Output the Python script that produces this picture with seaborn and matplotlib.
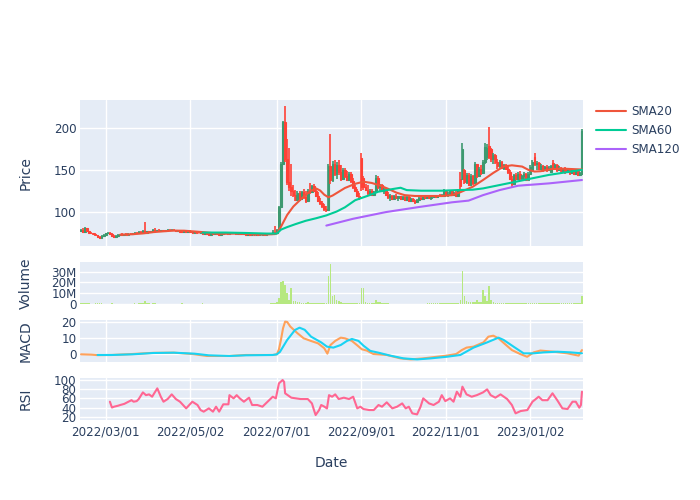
import matplotlib
matplotlib.use("Agg")
import matplotlib.pyplot as plt
import seaborn as sns

# daily candles, index 0..243 = trading days
opens = [78, 79, 77, 81, 77.5, 76, 75, 74, 73, 71,
         70, 72, 73, 75, 76, 74, 72, 71, 72, 73,
         73.5, 72.5, 74, 73.5, 74.5, 74, 75, 76, 75.5, 77,
         76, 78, 76, 77.5, 76.5, 77.5, 79.5, 78.5, 79, 78,
         78.5, 77.5, 78.5, 79.5, 78.5, 79.5, 78.5, 77.5, 78, 77,
         76.5, 77.5, 76.5, 77.5, 77, 76, 77, 76, 75.5, 76,
         74.5, 75, 74, 73.5, 74.5, 74, 75, 74, 73.5, 74.5,
         75.5, 75, 74.5, 75, 75.5, 75, 74.5, 75, 74.5, 74,
         74.5, 73.5, 74, 73, 73.5, 73, 73.5, 72.5, 73.5, 74,
         73, 74, 74.5, 75.5, 77, 75, 79.5, 106, 158, 207,
         163, 136, 130, 125, 121, 115, 123, 116, 124, 118,
         113, 126, 124, 131, 126, 120, 114, 111, 107, 104,
         103, 155, 138, 158, 146, 156, 148, 140, 150, 143,
         139, 146, 137, 130, 126, 120, 165, 141, 130, 127,
         123, 126, 121, 124, 141, 130, 132, 126, 128, 121,
         118, 120, 116, 120, 117, 119, 116, 118, 115, 118,
         114, 116, 113, 112, 115, 117, 116, 118, 117, 119,
         117, 118, 120, 118, 120, 119, 120, 126, 121, 122,
         125, 121, 123, 120, 140, 140, 150, 136, 145, 133,
         143, 135, 157, 143, 152, 147, 160, 166, 179, 175,
         163, 168, 160, 155, 160, 153, 156, 152, 148, 140,
         134, 144, 140, 146, 141, 143, 146, 139, 146, 150,
         166, 157, 159, 152, 155, 150, 154, 150, 148, 159,
         152, 156, 150, 153, 149, 152, 148, 151, 147, 150,
         146, 149, 145, 146]
highs = [80, 81, 83, 82, 78, 77, 76, 75, 73.5, 72,
         73, 74, 76, 77, 77, 75, 73, 73, 74, 74,
         75, 74, 75, 75, 76, 75, 77, 77, 78, 78,
         79, 88, 78, 78, 78, 80, 81, 79.5, 80, 79,
         79, 79, 80, 80.5, 80, 80, 79, 78.5, 79, 78,
         78, 78, 78, 78.5, 78, 77.5, 77.5, 77, 76.5, 76.5,
         75.5, 75.5, 75, 75, 75, 75.5, 75.5, 75, 75, 76,
         76, 76, 75.5, 76, 76, 75.5, 75.5, 75.5, 75, 75,
         75, 74.5, 74.5, 74, 74, 74, 74, 74, 74.5, 74.5,
         74.5, 75, 76, 79, 84, 80, 107, 160, 209, 226,
         187, 176, 157, 132, 127, 125, 126, 126, 128, 125,
         128, 135, 133, 134, 129, 124, 117, 114, 110, 108,
         157, 193, 161, 162, 160, 162, 156, 153, 153, 149,
         148, 148, 141, 133, 128, 123, 171, 143, 134, 132,
         128, 128, 126, 145, 143, 134, 134, 130, 129, 124,
         122, 121, 121, 122, 120, 120, 120, 119, 119, 119,
         117, 117, 115, 116, 118, 119, 119, 120, 120, 120,
         119, 121, 121, 121, 122, 122, 128, 127, 124, 127,
         126, 124, 125, 128, 148, 183, 152, 147, 147, 146,
         145, 160, 158, 154, 156, 162, 182, 181, 201, 177,
         171, 170, 164, 162, 161, 158, 158, 155, 150, 143,
         146, 147, 148, 149, 145, 148, 147, 148, 156, 162,
         171, 161, 160, 157, 156, 155, 156, 155, 156, 162,
         158, 157, 155, 154, 153, 154, 152, 152, 151, 151,
         150, 150, 148, 199]
lows = [77, 76, 76, 77, 75, 74, 73, 72, 70, 68,
        69.5, 71, 72, 74, 73, 71, 70, 70, 71, 72,
        72, 72, 73, 73, 73.5, 73, 74, 75, 75, 75.5,
        75.5, 75, 75, 76, 76, 77, 78, 77, 77.5, 77,
        77, 77, 78, 78, 78, 78, 77, 76.5, 76.5, 75.5,
        76, 76, 76, 76.5, 75.5, 75.5, 75.5, 75, 74.5, 74,
        73.5, 73.5, 73, 73, 73.5, 73.5, 73.5, 73, 73, 74,
        74.5, 74, 74, 74.5, 74.5, 74, 74, 74, 73.5, 73.5,
        73, 73, 72.5, 72.5, 72.5, 72.5, 72, 72, 73, 72.5,
        72.5, 73.5, 74, 75, 74, 74.5, 79, 105, 157, 160,
        133, 126, 120, 118, 113, 113, 114, 115, 116, 111,
        112, 122, 123, 124, 118, 112, 109, 105, 102, 101,
        102, 134, 136, 143, 140, 145, 137, 138, 141, 137,
        137, 135, 128, 124, 118, 115, 126, 127, 125, 121,
        120, 119, 119, 123, 128, 126, 124, 122, 119, 116,
        114, 115, 115, 116, 114, 115, 115, 114, 114, 113,
        112, 112, 110, 111, 114, 115, 115, 116, 116, 116,
        115, 117, 117, 117, 118, 118, 119, 119, 118, 121,
        120, 119, 119, 119, 128, 138, 134, 134, 131, 131,
        132, 134, 141, 142, 145, 146, 158, 162, 163, 160,
        158, 158, 152, 153, 152, 151, 150, 146, 138, 130,
        133, 138, 138, 139, 137, 139, 137, 138, 145, 149,
        155, 150, 150, 150, 148, 149, 148, 149, 147, 150,
        151, 148, 149, 147, 148, 146, 147, 145, 146, 145,
        145, 143, 143, 145]
closes = [79, 77, 81, 77.5, 76, 75, 74, 73, 71, 70,
          72, 73, 75, 76, 74, 72, 71, 72, 73, 73.5,
          72.5, 74, 73.5, 74.5, 74, 75, 76, 75.5, 77, 76,
          78, 76, 77.5, 76.5, 77.5, 79.5, 78.5, 79, 78, 78.5,
          77.5, 78.5, 79.5, 78.5, 79.5, 78.5, 77.5, 78, 77, 76.5,
          77.5, 76.5, 77.5, 77, 76, 77, 76, 75.5, 76, 74.5,
          75, 74, 73.5, 74.5, 74, 75, 74, 73.5, 74.5, 75.5,
          75, 74.5, 75, 75.5, 75, 74.5, 75, 74.5, 74, 74.5,
          73.5, 74, 73, 73.5, 73, 73.5, 72.5, 73.5, 74, 73,
          74, 74.5, 75.5, 77, 75, 79.5, 106, 158, 207, 163,
          136, 130, 125, 121, 115, 123, 116, 124, 118, 113,
          126, 124, 131, 126, 120, 114, 111, 107, 104, 103,
          155, 138, 158, 146, 156, 148, 140, 150, 143, 139,
          146, 137, 130, 126, 120, 118, 130, 130, 127, 123,
          126, 121, 124, 141, 130, 132, 126, 128, 121, 118,
          120, 116, 120, 117, 119, 116, 118, 115, 118, 114,
          116, 113, 112, 115, 117, 116, 118, 117, 119, 117,
          118, 120, 118, 120, 119, 120, 126, 121, 122, 125,
          121, 123, 120, 127, 131, 175, 136, 145, 133, 143,
          135, 157, 143, 152, 147, 160, 178, 176, 166, 163,
          168, 160, 155, 160, 153, 156, 152, 148, 140, 134,
          144, 140, 146, 141, 143, 146, 139, 146, 154, 160,
          157, 159, 152, 155, 150, 154, 150, 153, 155, 152,
          156, 150, 153, 149, 152, 148, 151, 147, 150, 146,
          149, 145, 147, 197]
# volume in millions of shares
volume_m = [0.8, 0.6, 0.7, 1.2, 0.5, 0.4, 0.4, 0.5, 0.6, 0.7,
            0.5, 0.4, 0.4, 0.3, 0.4, 0.5, 0.4, 0.3, 0.3, 0.3,
            0.3, 0.3, 0.4, 0.3, 0.3, 0.4, 0.5, 0.4, 0.5, 0.6,
            0.8, 2.4, 0.9, 0.5, 0.4, 0.6, 0.5, 0.4, 0.4, 0.3,
            0.3, 0.4, 0.4, 0.3, 0.4, 0.3, 0.3, 0.3, 0.3, 0.6,
            0.3, 0.3, 0.3, 0.3, 0.3, 0.3, 0.3, 0.3, 0.3, 0.9,
            0.4, 0.3, 0.3, 0.3, 0.3, 0.3, 0.3, 0.3, 0.3, 0.3,
            0.3, 0.3, 0.3, 0.3, 0.3, 0.3, 0.3, 0.3, 0.3, 0.3,
            0.3, 0.3, 0.3, 0.3, 0.3, 0.3, 0.3, 0.3, 0.3, 0.3,
            0.3, 0.4, 0.5, 0.8, 1.2, 1.5, 6, 20.7, 21, 17.7,
            10, 4, 15, 3, 2.5, 2, 1.5, 1.2, 1, 1,
            1.5, 1.2, 1, 1, 0.8, 0.8, 0.8, 0.9, 1, 1.2,
            26, 36.7, 7, 8.5, 4, 3, 1.5, 1.2, 1, 1,
            0.8, 0.7, 0.6, 0.6, 0.6, 0.8, 15, 14.5, 2, 1,
            0.8, 0.8, 0.9, 4, 1.5, 1.5, 1.2, 1.2, 0.5, 0.5,
            0.4, 0.4, 0.4, 0.4, 0.4, 0.4, 0.4, 0.4, 0.4, 0.4,
            0.4, 0.4, 0.4, 0.4, 0.4, 0.4, 0.4, 0.4, 0.5, 0.5,
            0.5, 0.5, 0.5, 0.5, 0.6, 0.6, 0.9, 0.7, 0.5, 0.6,
            0.6, 0.6, 0.6, 1, 3.5, 30.5, 7, 2.5, 1.5, 1.5,
            1.5, 1.5, 3.5, 2, 2, 13, 7, 2.5, 16.8, 4,
            2, 1.2, 1, 1, 1, 1, 0.7, 0.6, 0.6, 0.6,
            0.5, 0.5, 0.5, 0.5, 0.5, 0.5, 0.5, 0.5, 0.5, 0.6,
            0.7, 0.5, 0.5, 0.5, 0.5, 0.5, 0.5, 0.5, 0.5, 0.6,
            0.5, 0.5, 0.5, 0.5, 0.5, 0.5, 0.5, 0.5, 0.5, 0.5,
            0.5, 0.5, 0.5, 7.6]

# moving averages (day index, value)
sma20_idx = [19, 25, 30, 35, 40, 45, 50, 55, 60, 65, 70, 75, 80, 85, 90, 94,
             95, 97, 100, 103, 107, 111, 114, 116, 118, 120, 122, 124, 128, 133,
             137, 141, 145, 149, 153, 157, 162, 168, 175, 180, 184, 190, 195, 200,
             205, 209, 214, 217, 220, 223, 228, 234, 243]
sma20_val = [73.5, 74, 75, 76.5, 77.5, 78.3, 78.2, 77.3, 76.3, 75, 74.5, 74.8, 74.5, 73.8, 73.7, 74.2,
             75, 83, 97, 107, 116.5, 125, 128.5, 126, 121, 118, 120, 123, 129, 134,
             136.5, 135, 132, 128, 123.5, 120.5, 119.5, 119.5, 119.5, 120.5, 124, 130.5, 138.5, 147,
             154.6, 156, 154.5, 150.6, 148.6, 149, 151.5, 152, 151]
sma60_idx = [59, 70, 80, 90, 95, 97, 100, 104, 109, 114, 119, 124, 128, 133, 140, 144,
             151, 155, 158, 165, 175, 182, 190, 195, 203, 211, 219, 227, 235, 243]
sma60_val = [76, 76, 75.5, 74.8, 74.8, 79.5, 82.5, 86, 90, 93, 96.4, 101, 106, 114.5, 120.5, 124.5,
             127.7, 129.3, 126.5, 125.8, 125.8, 126.5, 127, 128.5, 132.5, 136.5, 140.6, 144.6, 147.6, 150.6]
sma120_idx = [119, 132, 148, 164, 180, 188, 195, 203, 212, 216, 219, 227, 235, 243]
sma120_val = [84.3, 92.4, 100.4, 106.4, 112, 114, 120.5, 126.5, 131.7, 132.5, 133, 134.5, 136.5, 138.5]

# MACD and signal line (day index, value)
macd_idx = [0, 5, 8, 15, 25, 35, 45, 54, 61, 72, 80, 93, 95, 96, 97, 98, 99, 100,
            101.5, 105, 108, 111.5, 115, 118, 119.5, 121, 123.3, 126, 128, 131.4, 133.8,
            136.2, 138.6, 141.8, 148.3, 155, 160, 166, 172.6, 177.4, 182, 184.7, 187,
            190.4, 195.2, 197.6, 200, 202.5, 205.8, 209, 213, 216.4, 219.6, 222.8, 229.3,
            235.9, 241.4, 243]
macd_val = [0, -0.2, -0.5, -0.4, 0.2, 0.9, 1.0, 0.2, -1.0, -1.0, -0.4, -0.4, 0, 3, 9, 16, 20, 19.8,
            17, 12.9, 9.8, 8.2, 6.7, 3.7, 0.4, 5.7, 8.2, 10.2, 9.8, 8.2, 5.7,
            3.1, 2.3, 0.2, -0.4, -2.5, -3.1, -2.5, -1.5, -0.8, 0.2, 2.6, 4.1,
            4.7, 7.3, 10.8, 11.4, 9.8, 6.1, 2.6, 0.2, -1.5, 1.2, 2.3, 1.6,
            0.6, -0.8, 2.6]
signal_idx = [8, 15, 25, 35, 45, 55, 62, 72, 80, 93, 95, 96.5, 100, 103.8, 106, 108.5,
              111.6, 116.5, 119.3, 122.4, 126, 129, 131.4, 134.6, 137, 140.3, 144.3, 150,
              156.5, 163, 169.4, 177.4, 184, 190.4, 197, 202.5, 205, 209.8, 214.7, 219.6,
              224.4, 231, 237.4, 243]
signal_val = [-0.4, -0.4, 0, 0.8, 1.0, 0.4, -0.6, -1.0, -0.6, -0.4, 0, 1.5, 8.8, 14.9, 16.3, 15,
              10.8, 7.3, 4.7, 4.1, 5.7, 8.2, 9.4, 8.2, 5.3, 2.1, 1.0, -0.8,
              -2.5, -3.1, -2.5, -1.5, -0.4, 4.1, 7.3, 10.2, 8.8, 4.7, 0.6, 0.6,
              1.2, 1.6, 1.2, 0.6]

# RSI (day index, value)
rsi_idx = [14, 15, 16, 18, 19, 21, 23, 24.5, 25.5, 27, 28, 30, 31.5, 33, 34.5, 35.5, 37, 38.7,
           40, 42, 44, 46, 48, 51, 52.5, 54, 56.5, 58, 59.5, 62, 64, 65.5, 67, 69, 71.5, 72,
           74, 75.5, 77, 79, 81.5, 83, 85.5, 88, 90.5, 93, 94.5, 96, 97.8, 98.5, 99, 102,
           106.5, 110, 112, 113, 113.8, 115.5, 116.5, 118, 119.3, 120.3, 121.8, 123.3, 125,
           127.5, 130, 132, 134, 135.5, 137, 139.8, 142, 144.3, 146, 148.3, 151, 153.3, 155.8,
           157.5, 159, 160.7, 163, 164.7, 166, 168.8, 171, 173.6, 175, 176.7, 179, 180.7,
           182.3, 184, 185, 187, 189.5, 192, 195, 197, 198.7, 201, 203.5, 206.7, 209, 210.8,
           213.3, 216.5, 219, 222, 223.8, 226.3, 228.7, 231, 233.5, 236, 238.4, 240, 241.7,
           242.5, 243]
rsi_val = [52.7, 40, 41.8, 44, 45.5, 48, 52.7, 56, 52.7, 54, 58.5, 73, 67, 68.7, 63.6, 71, 81.8, 63.6,
           52.7, 58.5, 68.7, 58.5, 52.7, 38.2, 45.5, 52.7, 45.5, 34.5, 31, 38.2, 31, 41.8, 31, 47, 47, 67,
           60, 67, 60, 52.7, 61.5, 45.5, 45.5, 41.8, 52.7, 63.6, 60, 92.7, 100, 96, 71, 61.5,
           58.5, 58.5, 49, 34.5, 23.6, 34.5, 45.5, 42, 38, 67, 63.6, 68.7, 58.5,
           61.5, 58.5, 63.6, 38.2, 41.8, 36.7, 34.5, 34.5, 45.5, 41.8, 51.3, 38.2, 41.8, 49,
           38.2, 41.8, 27.3, 25, 41.8, 60, 49, 45.5, 52.7, 67, 54, 60, 52.7,
           74.5, 63.6, 85.5, 68.7, 63.6, 67, 73, 79.6, 67, 61.5, 68.7, 58.5, 45.5, 27.3,
           32.4, 34.5, 52.7, 63.6, 56, 56, 71, 56, 38.2, 36.7, 52.7, 52.7, 39.6,
           45.5, 74.5]

tick_idx = [12, 53, 95, 136, 177, 218]
tick_labels = ['2022/03/01', '2022/05/02', '2022/07/01', '2022/09/01', '2022/11/01', '2023/01/02']

BG = '#E5ECF6'
FONT = '#2a3f5f'
sns.set_theme(style="darkgrid", rc={"axes.facecolor": BG, "grid.color": "white",
                                    "grid.linewidth": 1.0, "axes.edgecolor": BG})
plt.rcParams['font.family'] = ['DejaVu Sans']

fig = plt.figure(figsize=(7, 5), dpi=100)
L, W = 80 / 700, 503 / 700
ax_p = fig.add_axes([L, 254 / 500, W, 146 / 500])
ax_v = fig.add_axes([L, 196 / 500, W, 42 / 500])
ax_m = fig.add_axes([L, 138 / 500, W, 42 / 500])
ax_r = fig.add_axes([L, 80 / 500, W, 42 / 500])

n = len(closes)
days = list(range(n))
for ax in (ax_p, ax_v, ax_m, ax_r):
    ax.tick_params(length=0, pad=2.5, labelsize=8.6, labelcolor=FONT)
    for s in ax.spines.values():
        s.set_visible(False)
    ax.set_xticks(tick_idx)
    ax.set_xticklabels([])

# candlesticks
inc, dec = '#3D9970', '#FF4136'
cols = [inc if c >= o else dec for o, c in zip(opens, closes)]
ax_p.vlines(days, lows, highs, colors=cols, linewidth=1.2)
ax_p.bar(days, [abs(c - o) for o, c in zip(opens, closes)],
         bottom=[min(o, c) for o, c in zip(opens, closes)],
         width=0.8, color=cols, edgecolor=cols, linewidth=0.8)
sns.lineplot(x=sma20_idx, y=sma20_val, ax=ax_p, color='#EF553B', linewidth=1.5, label='SMA20', legend=False)
sns.lineplot(x=sma60_idx, y=sma60_val, ax=ax_p, color='#00CC96', linewidth=1.5, label='SMA60', legend=False)
sns.lineplot(x=sma120_idx, y=sma120_val, ax=ax_p, color='#AB63FA', linewidth=1.5, label='SMA120', legend=False)
ax_p.set_ylim(60, 233.7)
ax_p.set_yticks([100, 150, 200])
ax_p.set_ylabel('')

# volume
ax_v.bar(days, [v * 1e6 for v in volume_m], width=0.8, color='#B6E880',
         edgecolor='none', linewidth=0)
ax_v.set_ylim(0, 38.9e6)
ax_v.set_yticks([0, 1e7, 2e7, 3e7])
ax_v.set_yticklabels(['0', '10M', '20M', '30M'])
ax_v.set_xticks([])

# MACD
sns.lineplot(x=macd_idx, y=macd_val, ax=ax_m, color='#FFA15A', linewidth=1.5)
sns.lineplot(x=signal_idx, y=signal_val, ax=ax_m, color='#19D3F3', linewidth=1.5)
ax_m.set_ylim(-4.7, 21)
ax_m.set_yticks([0, 10, 20])
ax_m.set_ylabel('')

# RSI
sns.lineplot(x=rsi_idx, y=rsi_val, ax=ax_r, color='#FF6692', linewidth=1.5)
ax_r.set_ylim(12.8, 104.4)
ax_r.set_yticks([20, 40, 60, 80, 100])
ax_r.set_ylabel('')
ax_r.set_xticklabels(tick_labels)
ax_r.tick_params(axis='x', pad=4)

for ax in (ax_p, ax_v, ax_m, ax_r):
    ax.set_xlim(-0.5, n - 0.5)

for label, yc in [('Price', 173), ('Volume', 283), ('MACD', 341), ('RSI', 399)]:
    fig.text(26 / 700, 1 - yc / 500, label, rotation=90, ha='center', va='center',
             fontsize=10, color=FONT)
fig.text(331 / 700, 1 - 463 / 500, 'Date', ha='center', va='center', fontsize=10, color=FONT)

handles, labels = ax_p.get_legend_handles_labels()
fig.legend(handles, labels, loc='upper left', bbox_to_anchor=(596 / 700, 1 - 105 / 500),
           frameon=False, fontsize=8.6, labelcolor=FONT, handlelength=2.5,
           handletextpad=0.45, labelspacing=0.5, borderpad=0, borderaxespad=0)

fig.savefig('out.png', dpi=100)
